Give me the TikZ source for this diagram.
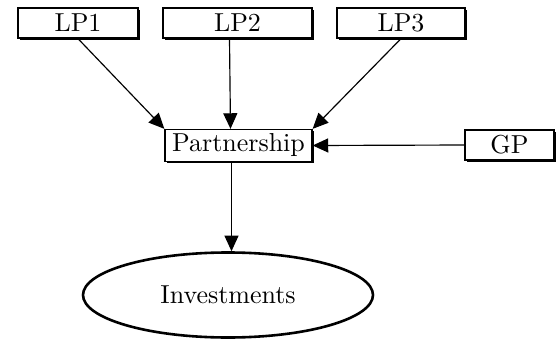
\documentclass[tikz,border=0pt]{standalone}
\usepackage{tikz}
\usetikzlibrary{arrows.meta,shapes.geometric,shadows}
\def\pxu{0.385pt}

\begin{document}
\begin{tikzpicture}[x=\pxu, y=-\pxu,
  partybox/.style={draw, fill=white, line width=0.5pt, inner sep=0pt,
    drop shadow={shadow xshift=0.6pt, shadow yshift=-0.6pt, fill=black, opacity=1}},
  assetblob/.style={ellipse, draw, line width=1pt, inner sep=0pt,
    minimum width=290*\pxu, minimum height=85*\pxu},
  flow/.style={-{Triangle[length=6pt,width=5.4pt]}, line width=0.45pt},
]
\useasboundingbox (0,0) rectangle (556,340);
% limited partners on top
\node[partybox, minimum width=120*\pxu, minimum height=30*\pxu] (lp1) at (78,23) {LP1};
\node[partybox, minimum width=149*\pxu, minimum height=30*\pxu] (lp2) at (237.5,23) {LP2};
\node[partybox, minimum width=128*\pxu, minimum height=30*\pxu] (lp3) at (401,23) {LP3};
% the fund and its general partner
\node[partybox, minimum width=147*\pxu, minimum height=32*\pxu] (part) at (238.5,145.5) {Partnership};
\node[partybox, minimum width=89*\pxu, minimum height=30*\pxu] (gp) at (509.5,145) {GP};
\node[assetblob] (inv) at (228,295) {Investments};

\draw[flow] (lp1.south) -- (part.north west);
\draw[flow] ([xshift=-8*\pxu]lp2.south) -- ([xshift=-8*\pxu]part.north);
\draw[flow] (lp3.south) -- (part.north east);
\draw[flow] (gp.west) -- (part.east);
\draw[flow] ([xshift=-7*\pxu]part.south) -- ([xshift=-7*\pxu]part.south |- inv.north);
\end{tikzpicture}
\end{document}
